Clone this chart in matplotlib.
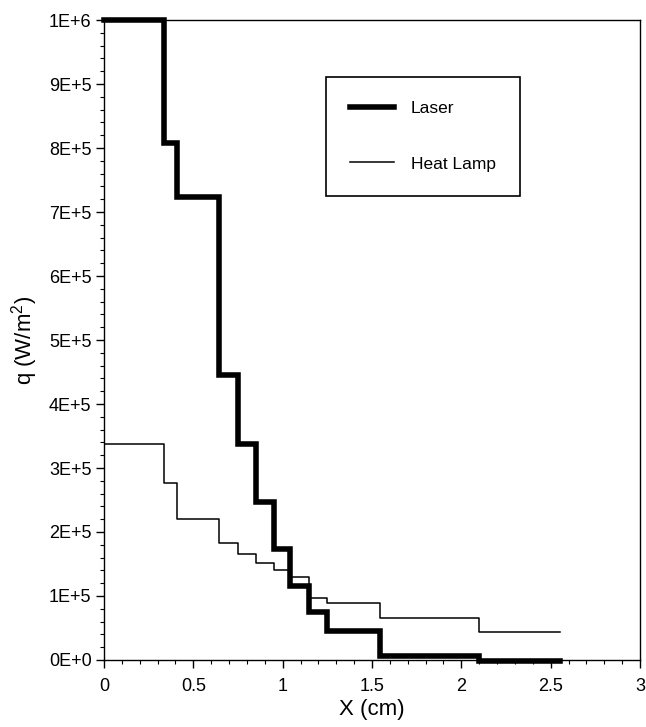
import matplotlib
matplotlib.use("Agg")
import matplotlib.pyplot as plt
from matplotlib.ticker import MultipleLocator

plt.rcParams['font.family'] = ['Liberation Sans', 'DejaVu Sans']
plt.rcParams['mathtext.default'] = 'regular'

# step edges (cm)
x_edges = [0, 0.336, 0.41, 0.645, 0.748, 0.85, 0.95, 1.04, 1.145, 1.25, 1.545, 2.10, 2.55]
# values per segment (W/m^2)
laser = [1.0e6, 8.08e5, 7.24e5, 4.45e5, 3.38e5, 2.47e5, 1.73e5, 1.16e5, 7.5e4, 4.6e4, 6e3, -2e3]
heat_lamp = [3.375e5, 2.76e5, 2.21e5, 1.83e5, 1.66e5, 1.51e5, 1.40e5, 1.29e5, 9.7e4, 8.9e4, 6.6e4, 4.4e4]

y_ticks = [0, 1e5, 2e5, 3e5, 4e5, 5e5, 6e5, 7e5, 8e5, 9e5, 1e6]
y_tick_labels = ['0E+0', '1E+5', '2E+5', '3E+5', '4E+5', '5E+5', '6E+5', '7E+5', '8E+5', '9E+5', '1E+6']
x_ticks = [0, 0.5, 1, 1.5, 2, 2.5, 3]
x_tick_labels = ['0', '0.5', '1', '1.5', '2', '2.5', '3']

fig = plt.figure(figsize=(6.46, 7.27), dpi=100)
ax = fig.add_axes([104/646, 1-660/727, 536/646, 640/727])

ax.step(x_edges, laser + [laser[-1]], where='post', color='black', lw=4.0,
        solid_joinstyle='miter', label='Laser', clip_on=False, zorder=3)
ax.step(x_edges, heat_lamp + [heat_lamp[-1]], where='post', color='black', lw=1.1,
        label='Heat Lamp', zorder=4)

ax.set_xlim(0, 3)
ax.set_ylim(0, 1e6)
ax.set_xticks(x_ticks)
ax.set_xticklabels(x_tick_labels)
ax.set_yticks(y_ticks)
ax.set_yticklabels(y_tick_labels)
ax.xaxis.set_minor_locator(MultipleLocator(0.1))
ax.yaxis.set_minor_locator(MultipleLocator(2e4))

ax.tick_params(which='major', direction='out', length=6, width=1, labelsize=13)
ax.tick_params(axis='x', which='major', pad=7)
ax.tick_params(axis='y', which='major', pad=3)
ax.tick_params(which='minor', direction='out', length=3, width=0.8)
for s in ax.spines.values():
    s.set_linewidth(1.0)

ax.set_xlabel('X (cm)', fontsize=16, labelpad=3)
ax.set_ylabel('q (W/m$^2$)', fontsize=16, labelpad=6)

leg = ax.legend(loc='upper left', bbox_to_anchor=(0.414, 0.911), fontsize=12.5,
                frameon=True, fancybox=False, edgecolor='black', framealpha=1,
                handlelength=2.5, labelspacing=2.3, borderpad=1.4, handletextpad=1.0,
                borderaxespad=0)
leg.get_frame().set_linewidth(1.2)

fig.savefig('out.png', dpi=100, facecolor='white')
